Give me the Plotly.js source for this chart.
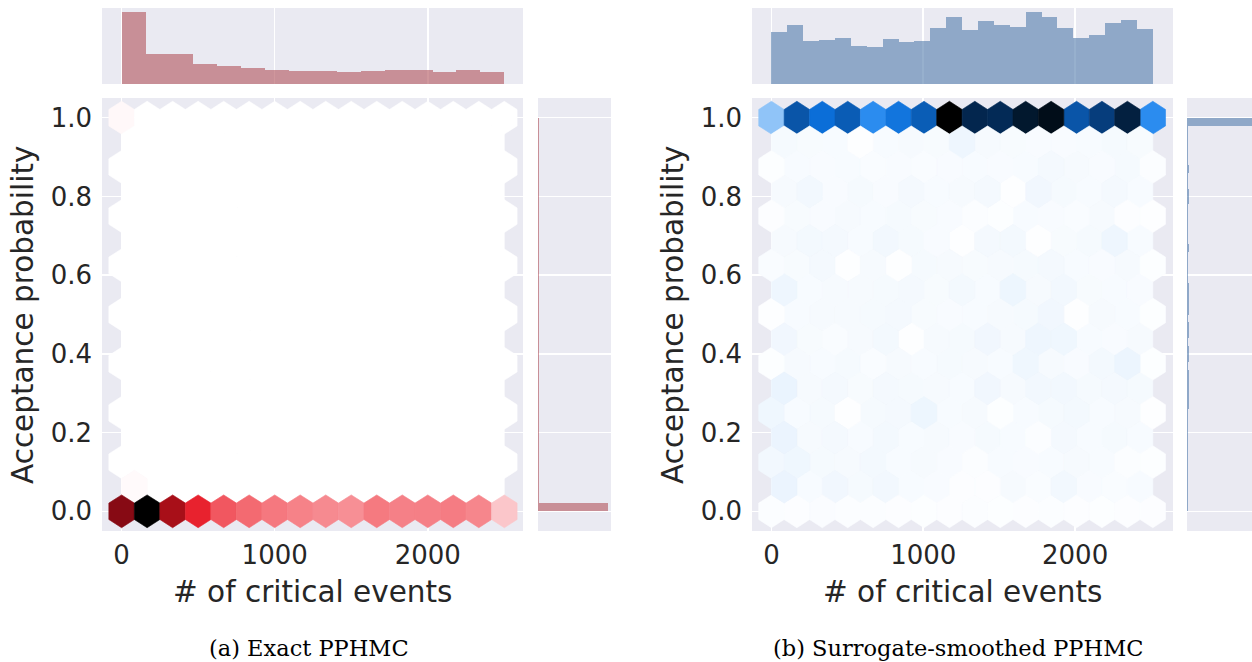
<!DOCTYPE html>
<html><head><meta charset="utf-8">
<script src="https://cdn.plot.ly/plotly-3.0.1.min.js"></script>
<style>html,body{margin:0;padding:0;background:#fff}#chart{width:1252px;height:662px}</style>
</head><body><div id="chart"></div>
<script>
// ---------------- data ----------------
const xTickVals = [0, 1000, 2000];
const yTickVals = [0, 0.2, 0.4, 0.6, 0.8, 1.0];
const xTitle = '# of critical events';
const yTitle = 'Acceptance probability';
const captionA = '(a) Exact PPHMC';
const captionB = '(b) Surrogate-smoothed PPHMC';

const eventsMaxA = 2500;
const eventsMaxB = 2512;
const hexGridX = 15;
const hexGridY = 8;

// hexbin counts, rows from top (acceptance 1.0) down to bottom (0.0);
// even rows: 16 cells, odd (staggered) rows: 15 cells
const hexCountsA = [
  [18,0,0,0,0,0,0,0,0,0,0,0,0,0,0,0],
  [0,0,0,0,0,0,0,0,0,0,0,0,0,0,0],
  [0,0,0,0,0,0,0,0,0,0,0,0,0,0,0,0],
  [0,0,0,0,0,0,0,0,0,0,0,0,0,0,0],
  [0,0,0,0,0,0,0,0,0,0,0,0,0,0,0,0],
  [0,0,0,0,0,0,0,0,0,0,0,0,0,0,0],
  [0,0,0,0,0,0,0,0,0,0,0,0,0,0,0,0],
  [0,0,0,0,0,0,0,0,0,0,0,0,0,0,0],
  [0,0,0,0,0,0,0,0,0,0,0,0,0,0,0,0],
  [0,0,0,0,0,0,0,0,0,0,0,0,0,0,0],
  [0,0,0,0,0,0,0,0,0,0,0,0,0,0,0,0],
  [0,0,0,0,0,0,0,0,0,0,0,0,0,0,0],
  [0,0,0,0,0,0,0,0,0,0,0,0,0,0,0,0],
  [0,0,0,0,0,0,0,0,0,0,0,0,0,0,0],
  [0,0,0,0,0,0,0,0,0,0,0,0,0,0,0,0],
  [12,0,0,0,0,0,0,0,0,0,0,0,0,0,0],
  [850,1000,750,550,450,400,362,335,313,300,357,340,343,351,324,150]
];
const hexCountsB = [
  [200,550,450,522,350,427,520,1000,812,790,900,946,550,700,850,350],
  [18,15,14,4,14,16,15,30,16,15,13,12,14,18,15],
  [5,14,12,14,10,13,10,12,14,12,14,20,16,12,18,8],
  [16,24,12,18,13,20,14,16,20,3,26,18,14,20,14],
  [6,15,12,16,14,18,15,12,8,5,14,12,10,16,6,4],
  [16,22,20,14,24,18,12,3,20,22,3,15,18,30,14],
  [10,15,20,4,16,4,18,16,15,16,18,20,14,12,16,5],
  [30,14,16,16,18,20,15,22,14,32,16,24,15,14,12],
  [4,14,16,16,18,20,15,12,14,16,18,26,4,16,14,5],
  [26,15,10,16,22,4,16,18,26,16,30,28,14,12,16],
  [5,16,14,18,10,16,14,18,16,14,28,16,12,22,34,5],
  [38,16,20,15,20,18,16,14,26,16,24,24,18,20,18],
  [28,14,18,4,18,20,32,14,16,5,14,18,22,14,16,4],
  [36,16,20,14,22,14,16,12,18,14,8,20,14,18,14],
  [24,28,18,16,22,14,16,12,8,14,12,14,16,14,8,5],
  [36,14,26,18,24,14,12,6,6,16,10,24,12,10,14],
  [8,6,9,7,8,6,5,6,7,5,6,7,6,5,6,6]
];

// marginal histogram of # of critical events (equal bins over [0, eventsMax])
const topHistA = [216,90,90,60,54,48,42,39,39,36,39,42,42,36,42,36];
const topHistB = [156,177,129,132,138,114,111,135,126,129,168,201,162,189,177,171,216,201,168,138,147,183,192,165];
// marginal histogram of acceptance probability (50 bins over [0, 1])
const sideHistA = [100,1.4,1.4,1.4,1.4,1.4,1.4,1.4,1.4,1.4,1.4,1.4,1.4,1.4,1.4,1.4,1.4,1.4,1.4,1.4,1.4,1.4,1.4,1.4,1.4,1.4,1.4,1.4,1.4,1.4,1.4,1.4,1.4,1.4,1.4,1.4,1.4,1.4,1.4,1.4,1.4,1.4,1.4,1.4,1.4,1.4,1.4,1.4,1.4,1.4];
const sideHistB = [2,2,2,2,2,2,2,2,2,2,2,2,2,3.5,3.5,3.5,3.5,3.5,2,3.5,3.5,2,3.5,3.5,2,3.5,3.5,3.5,3.5,2,2,2,2,3.5,2,2,2,2,2,3.5,3.5,2,2,3.5,2,2,2,2,2,100];

// ---------------- styles ----------------
const redScale = [[0,'#ffffff'],[0.15,'#fbc6ca'],[0.3,'#f78f95'],[0.4,'#f36a71'],[0.45,'#f15760'],[0.55,'#e8222e'],[0.75,'#a80f18'],[0.85,'#870a14'],[1,'#000000']];
const blueScale = [[0,'#ffffff'],[0.2,'#90c4f8'],[0.35,'#2b8cef'],[0.45,'#0b6ed8'],[0.55,'#0a55a8'],[0.7,'#063d7c'],[0.8,'#032852'],[0.9,'#02182e'],[1,'#000000']];
const histRed = 'rgba(177,82,90,0.6)';
const histBlue = 'rgba(82,124,172,0.6)';
const bg = '#eaeaf2';
const txt = '#262626';
const sansFont = 'DejaVu Sans, sans-serif';

function hexRgb(h){return [parseInt(h.slice(1,3),16),parseInt(h.slice(3,5),16),parseInt(h.slice(5,7),16)];}
function colorAt(scale,t){
  t=Math.max(0,Math.min(1,t));
  for(let i=1;i<scale.length;i++){
    if(t<=scale[i][0]){
      const a=scale[i-1],b=scale[i];
      const f=(t-a[0])/(b[0]-a[0]);
      const ca=hexRgb(a[1]),cb=hexRgb(b[1]);
      return 'rgb('+ca.map((v,k)=>Math.round(v+(cb[k]-v)*f)).join(',')+')';
    }
  }
  return scale[scale.length-1][1];
}

function hexTraces(counts,xmax,xa,ya,scale){
  const sx=xmax/hexGridX, sy=1/hexGridY;
  const vmax=Math.max(...counts.flat());
  const vx=[0.5,0.5,0,-0.5,-0.5,0,0.5], vy=[-1/6,1/6,1/3,1/6,-1/6,-1/3,-1/6];
  const groups={};
  counts.forEach((row,k)=>{
    const yc=1-k*sy/2;
    const off=(k%2===1)?0.5:0;
    row.forEach((c,i)=>{
      const xc=(i+off)*sx;
      const col=colorAt(scale,c/vmax);
      const g=groups[col]||(groups[col]={x:[],y:[]});
      for(let m=0;m<7;m++){g.x.push(xc+vx[m]*sx);g.y.push(yc+vy[m]*sy);}
      g.x.push(null);g.y.push(null);
    });
  });
  return Object.entries(groups).map(([col,g])=>({type:'scatter',mode:'lines',x:g.x,y:g.y,fill:'toself',fillcolor:col,
    line:{color:col,width:0.6},xaxis:xa,yaxis:ya,hoverinfo:'skip',showlegend:false}));
}

function histTrace(counts,start,end,horizontal,xa,ya,color){
  const n=counts.length,w=(end-start)/n;
  const pos=counts.map((_,i)=>start+(i+0.5)*w);
  const t={type:'bar',width:w,marker:{color:color,line:{width:0}},xaxis:xa,yaxis:ya,hoverinfo:'skip',showlegend:false};
  if(horizontal){t.orientation='h';t.y=pos;t.x=counts;}else{t.x=pos;t.y=counts;}
  return t;
}

const traces=[].concat(
  hexTraces(hexCountsA,eventsMaxA,'x','y',redScale),
  [histTrace(topHistA,0,eventsMaxA,false,'x2','y2',histRed),
   histTrace(sideHistA,0,1,true,'x3','y3',histRed)],
  hexTraces(hexCountsB,eventsMaxB,'x4','y4',blueScale),
  [histTrace(topHistB,0,eventsMaxB,false,'x5','y5',histBlue),
   histTrace(sideHistB,0,1,true,'x6','y6',histBlue)]
);

const W=1252,H=662;
const px=v=>v/W, py=v=>1-v/H;
const mainY=[py(531),py(98)], topY=[py(84),py(8)];
const xA=[px(102),px(523)], sA=[px(538),px(611)];
const xB=[px(752),px(1173)], sB=[px(1187),1];
const yRange=[-0.05,1.05];
const xRangeA=[-128,2622], xRangeB=[-128,2645];

const tickFont={family:sansFont,size:26,color:txt};
const base={showgrid:true,gridcolor:'#ffffff',gridwidth:1.6,zeroline:false,showline:false,ticks:'',fixedrange:true};
function mainX(dom,rng,anc){return Object.assign({},base,{domain:dom,range:rng,anchor:anc,tickvals:xTickVals,tickfont:tickFont,ticklabelstandoff:6});}
function mainYax(anc){return Object.assign({},base,{domain:mainY,range:yRange,anchor:anc,tickvals:yTickVals,tickformat:'.1f',tickfont:tickFont,ticklabelstandoff:9});}
function topX(dom,rng,anc){return Object.assign({},base,{domain:dom,range:rng,anchor:anc,tickvals:xTickVals,showticklabels:false});}
function topYax(hist,anc){return Object.assign({},base,{domain:topY,range:[0,Math.max(...hist)*1.055],anchor:anc,showgrid:false,showticklabels:false});}
function sideX(dom,rng,anc){return Object.assign({},base,{domain:dom,range:rng,anchor:anc,showgrid:false,showticklabels:false});}
function sideYax(anc){return Object.assign({},base,{domain:mainY,range:yRange,anchor:anc,tickvals:yTickVals,showticklabels:false});}

const titleFont={family:sansFont,size:29.5,color:txt};
const capFont={family:'DejaVu Serif, serif',size:22.5,color:'#000'};
const annotations=[
  {text:yTitle,x:px(23),y:py(315),textangle:-90,font:titleFont},
  {text:yTitle,x:px(673),y:py(315),textangle:-90,font:titleFont},
  {text:xTitle,x:px(312.5),y:py(592),font:titleFont},
  {text:xTitle,x:px(962.5),y:py(592),font:titleFont},
  {text:captionA,x:px(309),y:py(648),font:capFont},
  {text:captionB,x:px(958),y:py(648),font:capFont}
].map(a=>Object.assign({xref:'paper',yref:'paper',xanchor:'center',yanchor:'middle',showarrow:false},a));

const layout={
  width:W,height:H,margin:{l:0,r:0,t:0,b:0},paper_bgcolor:'#ffffff',plot_bgcolor:bg,
  showlegend:false,bargap:0,barmode:'overlay',
  xaxis:mainX(xA,xRangeA,'y'), yaxis:mainYax('x'),
  xaxis2:topX(xA,xRangeA,'y2'), yaxis2:topYax(topHistA,'x2'),
  xaxis3:sideX(sA,[0,Math.max(...sideHistA)*1.05],'y3'), yaxis3:sideYax('x3'),
  xaxis4:mainX(xB,xRangeB,'y4'), yaxis4:mainYax('x4'),
  xaxis5:topX(xB,xRangeB,'y5'), yaxis5:topYax(topHistB,'x5'),
  xaxis6:sideX(sB,[0,Math.max(...sideHistB)*0.935],'y6'), yaxis6:sideYax('x6'),
  annotations:annotations
};
Plotly.newPlot('chart',traces,layout,{staticPlot:true,displayModeBar:false});
</script></body></html>
